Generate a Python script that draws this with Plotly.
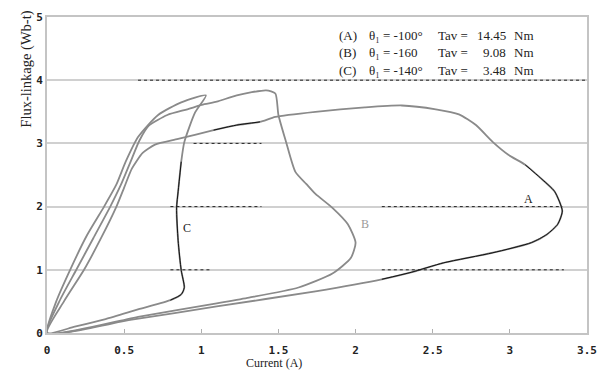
import plotly.graph_objects as go

# Flux-linkage loops (current in A, flux-linkage in Wb-t)
a_current = [0, 0.11, 0.24, 0.35, 0.45, 0.50, 0.55, 0.62, 0.70, 0.85, 1.08, 1.23, 1.38, 1.48,
             1.74, 2.06, 2.30, 2.52, 2.67, 2.78, 2.89, 2.99, 3.10, 3.20, 3.29, 3.34, 3.31,
             3.24, 3.14, 2.89, 2.57, 2.36, 2.17, 1.74, 1.10, 0.55, 0]
a_flux = [0, 0.5, 1.0, 1.5, 2.0, 2.3, 2.6, 2.85, 2.98, 3.07, 3.21, 3.29, 3.34, 3.42,
          3.50, 3.57, 3.60, 3.54, 3.46, 3.29, 3.02, 2.82, 2.66, 2.45, 2.24, 1.93, 1.72,
          1.56, 1.43, 1.27, 1.11, 0.96, 0.85, 0.66, 0.42, 0.21, 0]

b_current = [0, 0.08, 0.19, 0.30, 0.41, 0.48, 0.54, 0.60, 0.66, 0.78, 0.91, 1.02, 1.10, 1.23,
             1.42, 1.48, 1.50, 1.55, 1.61, 1.68, 1.74, 1.85, 1.95, 2.00, 1.97, 1.85, 1.63,
             1.31, 1.10, 0.60, 0]
b_flux = [0, 0.5, 1.0, 1.5, 2.0, 2.35, 2.7, 3.05, 3.28, 3.45, 3.54, 3.62, 3.66, 3.76,
          3.84, 3.79, 3.45, 3.02, 2.55, 2.36, 2.20, 1.98, 1.72, 1.43, 1.19, 0.94, 0.72,
          0.56, 0.47, 0.26, 0]

c_current = [0, 0.06, 0.15, 0.26, 0.37, 0.45, 0.51, 0.59, 0.72, 0.87, 1.03, 0.96, 0.89, 0.87,
             0.85, 0.84, 0.85, 0.87, 0.89, 0.87, 0.80, 0.60, 0.38, 0.18, 0]
c_flux = [0, 0.5, 1.0, 1.55, 2.0, 2.35, 2.71, 3.10, 3.45, 3.65, 3.76, 3.49, 3.02, 2.71,
          2.24, 1.98, 1.46, 0.99, 0.72, 0.61, 0.52, 0.38, 0.22, 0.10, 0]

# Index ranges of each loop printed darker
a_dark = [(10, 12), (22, 32)]
c_dark = [(13, 20)]

# Dotted reference levels: (flux, current from, current to)
dotted_levels = [(4, 0.59, 3.5), (3, 0.95, 1.39), (2, 0.80, 1.39), (2, 2.17, 3.34),
                 (1, 0.80, 1.07), (1, 2.17, 3.35)]

curve_labels = ["A", "B", "C"]
label_current = [3.12, 2.06, 0.91]
label_flux = [2.12, 1.72, 1.66]
label_colors = ["#222222", "#9a9a9a", "#222222"]

# Operating conditions of each loop
case_tags = ["(A)", "(B)", "(C)"]
case_theta = ["\u03b8\u2081 = -100\u00b0", "\u03b8\u2081 = -160", "\u03b8\u2081 = -140\u00b0"]
case_torque = ["14.45", "9.08", "3.48"]

x_ticks = [0, 0.5, 1, 1.5, 2, 2.5, 3, 3.5]
x_tick_text = ["0", "0.5", "1", "1.5", "2", "2.5", "3", "3.5"]
y_ticks = [0, 1, 2, 3, 4, 5]

GRAY = "#8a8a8a"
INK = "#222222"
serif = "Liberation Serif"
mono = "DejaVu Sans Mono"

fig = go.Figure()

for xs, ys in [(a_current, a_flux), (b_current, b_flux), (c_current, c_flux)]:
    fig.add_trace(go.Scatter(x=xs, y=ys, mode="lines",
                             line=dict(color=GRAY, width=1.8, shape="spline", smoothing=0.6),
                             hoverinfo="skip"))

for xs, ys, ranges in [(a_current, a_flux, a_dark), (c_current, c_flux, c_dark)]:
    for i0, i1 in ranges:
        fig.add_trace(go.Scatter(x=xs[i0:i1 + 1], y=ys[i0:i1 + 1], mode="lines",
                                 line=dict(color="#111111", width=1, shape="spline", smoothing=0.6),
                                 hoverinfo="skip"))

for lvl, x0, x1 in dotted_levels:
    fig.add_shape(type="line", x0=x0, x1=x1, y0=lvl, y1=lvl, xref="x", yref="y",
                  line=dict(color=INK, width=1, dash="dot"))

for name, cx, cy, col in zip(curve_labels, label_current, label_flux, label_colors):
    fig.add_annotation(x=cx, y=cy, text=name, showarrow=False,
                       font=dict(family=serif, size=12, color=col))


def px_x(px):
    return (px - 47) / 550


def px_y(py):
    return (333 - py) / 319


# Key in aligned columns
key_font = dict(family=serif, size=13, color=INK)
row_y = [33, 50, 68]
for tag, theta, torque, py in zip(case_tags, case_theta, case_torque, row_y):
    cells = [(tag, 342, "left"), (theta, 373, "left"), ("Tav =", 443, "left"),
             (torque, 517, "right"), ("Nm", 521, "left")]
    for txt, px, anchor in cells:
        fig.add_annotation(x=px_x(px), y=px_y(py), xref="paper", yref="paper",
                           xanchor=anchor, yanchor="middle", text=txt, showarrow=False,
                           font=key_font)

fig.add_annotation(x=px_x(278), y=px_y(372), xref="paper", yref="paper",
                   text="Current (A)", showarrow=False,
                   font=dict(family=serif, size=12, color=INK))
fig.add_annotation(x=px_x(15), y=px_y(6), xref="paper", yref="paper",
                   yanchor="top", text="Flux-linkage (Wb-t)", textangle=-90, showarrow=False,
                   font=dict(family=serif, size=14.5, color=INK))

fig.update_xaxes(range=[0, 3.5], tickvals=x_ticks, ticktext=x_tick_text,
                 showgrid=False, zeroline=False, showline=True, mirror=True,
                 linecolor="#c4c4c4", linewidth=2, ticks="inside", ticklen=4,
                 tickcolor="#b0b0b0", ticklabelstandoff=6,
                 tickfont=dict(family=mono, size=11, color=INK, weight="bold"))
fig.update_yaxes(range=[0, 5], tickvals=y_ticks,
                 showgrid=True, gridcolor="#d0d0d0", gridwidth=2, zeroline=False,
                 showline=True, mirror=True, linecolor="#c4c4c4", linewidth=2,
                 ticks="", tickfont=dict(family=mono, size=11, color=INK, weight="bold"))

fig.update_layout(width=608, height=380, margin=dict(l=47, r=11, t=14, b=47),
                  plot_bgcolor="white", paper_bgcolor="white", showlegend=False)

fig.write_html("out.html")
